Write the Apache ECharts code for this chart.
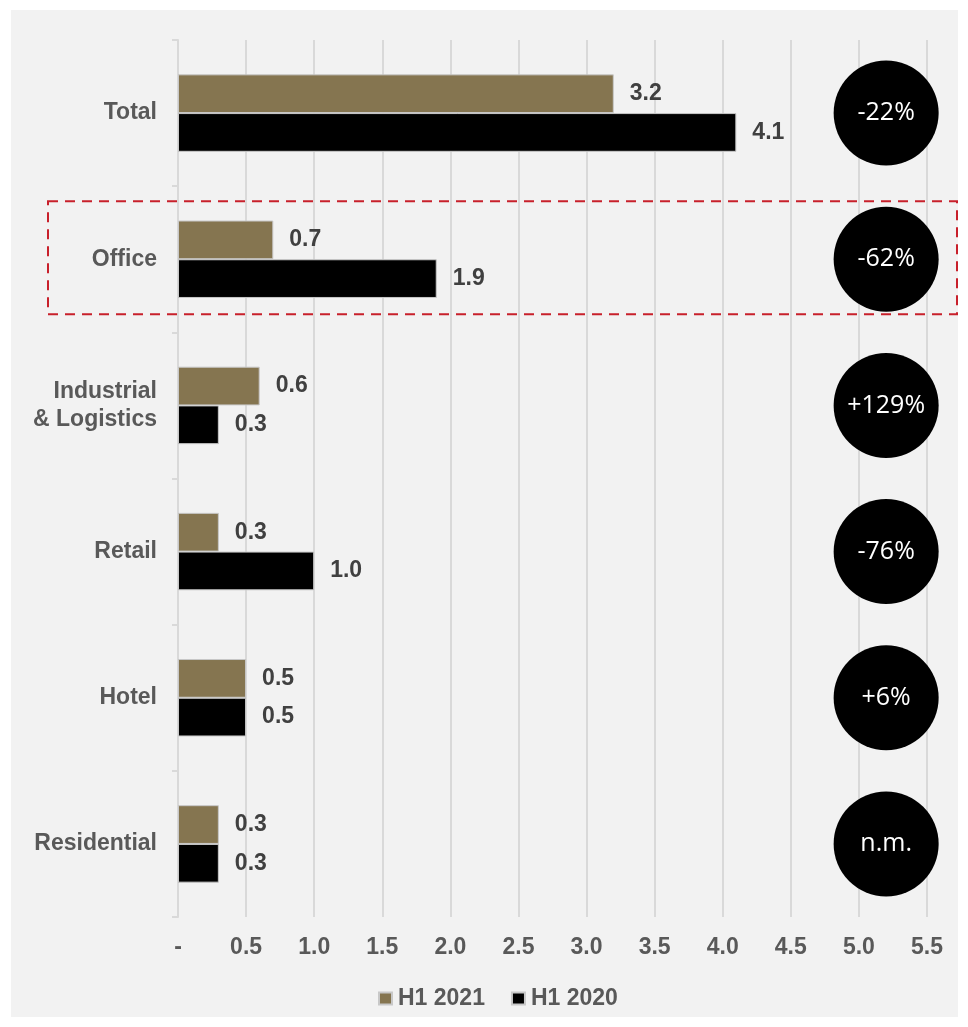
<!DOCTYPE html>
<html>
<head>
<meta charset="utf-8">
<script src="https://cdn.jsdelivr.net/npm/echarts@6/dist/echarts.min.js"></script>
<style>
  html, body { margin: 0; padding: 0; background: #ffffff; }
  #chart { width: 968px; height: 1027px; }
</style>
</head>
<body>
<div id="chart"></div>
<script>
// Investment volume by sector, H1 2021 vs H1 2020
const categories = ['Total', 'Office', 'Industrial\n& Logistics', 'Retail', 'Hotel', 'Residential'];
const h1_2021 = [3.2, 0.7, 0.6, 0.3, 0.5, 0.3];
const h1_2020 = [4.1, 1.9, 0.3, 1.0, 0.5, 0.3];
const changeLabels = ['-22%', '-62%', '+129%', '-76%', '+6%', 'n.m.'];
const badgeX = 5.2;
const xTicks = ['-', '0.5', '1.0', '1.5', '2.0', '2.5', '3.0', '3.5', '4.0', '4.5', '5.0', '5.5'];
const highlighted = 'Office';

const chart = echarts.init(document.getElementById('chart'), null, { renderer: 'canvas' });

const labelFont = 'Liberation Sans, Arial, sans-serif';
const barLabel = {
  show: true,
  position: 'right',
  distance: 16,
  color: '#404040',
  fontFamily: labelFont,
  fontWeight: 'bold',
  fontSize: 23,
  padding: [3, 0, 0, 0],
  formatter: p => p.value.toFixed(1)
};

chart.setOption({
  backgroundColor: '#ffffff',
  animation: false,
  grid: { left: 178, right: 41, top: 40, bottom: 110 },
  xAxis: {
    type: 'value',
    min: 0,
    max: 5.5,
    interval: 0.5,
    axisLine: { show: false },
    axisTick: { show: false },
    splitLine: { show: true, lineStyle: { color: '#d9d9d9', width: 2 } },
    axisLabel: {
      color: '#595959',
      fontFamily: labelFont,
      fontWeight: 'bold',
      fontSize: 23,
      margin: 19,
      formatter: (v) => xTicks[Math.round(v / 0.5)]
    }
  },
  yAxis: {
    type: 'category',
    data: categories,
    inverse: true,
    axisLine: { show: true, lineStyle: { color: '#d9d9d9', width: 2 } },
    axisTick: { show: true, length: 6, lineStyle: { color: '#d9d9d9', width: 2 } },
    axisLabel: {
      color: '#595959',
      fontFamily: labelFont,
      fontWeight: 'bold',
      fontSize: 23,
      lineHeight: 28,
      margin: 21,
      padding: [3, 0, 0, 0],
      align: 'right'
    }
  },
  legend: {
    bottom: 17,
    left: 378,
    padding: 0,
    itemWidth: 13,
    itemHeight: 12,
    itemGap: 26,
    icon: 'rect',
    textStyle: {
      color: '#595959',
      fontFamily: labelFont,
      fontWeight: 'bold',
      fontSize: 23,
      padding: [0, 0, 0, 1]
    },
    data: ['H1 2021', 'H1 2020']
  },
  series: [
    {
      name: 'H1 2021',
      type: 'bar',
      data: h1_2021,
      barGap: '0%',
      barCategoryGap: '47%',
      itemStyle: { color: '#857550', borderColor: '#c8c8c8', borderWidth: 1 },
      label: barLabel
    },
    {
      name: 'H1 2020',
      type: 'bar',
      data: h1_2020,
      barGap: '0%',
      barCategoryGap: '47%',
      itemStyle: { color: '#000000', borderColor: '#c8c8c8', borderWidth: 1 },
      label: barLabel
    },
    {
      name: 'change',
      type: 'scatter',
      symbol: 'circle',
      symbolSize: 105,
      z: 5,
      itemStyle: { color: '#000000', opacity: 1 },
      emphasis: { disabled: true },
      data: categories.map((c, i) => [badgeX, i]),
      label: {
        show: true,
        position: 'inside',
        color: '#ffffff',
        fontFamily: 'Open Sans, Noto Sans, sans-serif',
        fontSize: 25,
        formatter: p => changeLabels[p.dataIndex]
      }
    }
  ]
});

// Panel background and the dashed frame around the highlighted sector
function drawFrame() {
  const idx = categories.indexOf(highlighted);
  const cy = chart.convertToPixel({ yAxisIndex: 0 }, idx);
  chart.setOption({
    graphic: [
      {
        type: 'rect',
        z: -10,
        silent: true,
        shape: { x: 11, y: 10, width: 947, height: 1007 },
        style: { fill: '#f2f2f2' }
      },
      {
        type: 'rect',
        z: 100,
        silent: true,
        shape: { x: 48, y: cy - 58, width: 909, height: 113 },
        style: { fill: 'none', stroke: '#c8202b', lineWidth: 2, lineDash: [10, 7] }
      }
    ]
  });
}
drawFrame();
</script>
</body>
</html>
